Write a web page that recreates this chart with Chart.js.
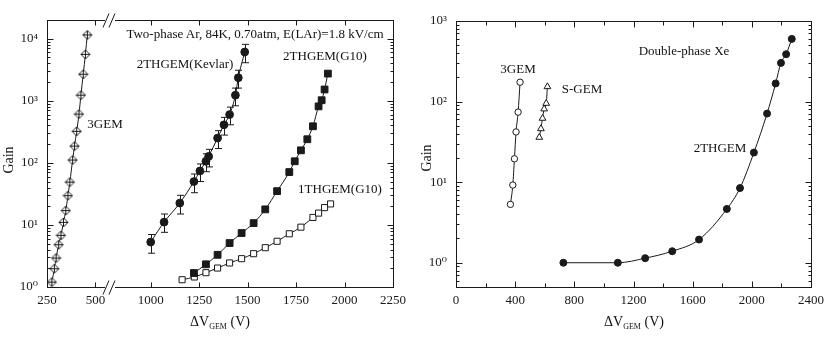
<!DOCTYPE html>
<html>
<head>
<meta charset="utf-8">
<script src="https://cdn.jsdelivr.net/npm/chart.js@4.4.0/dist/chart.umd.min.js"></script>
<style>
html, body { margin: 0; padding: 0; background: #fff; }
#wrap { position: relative; width: 830px; height: 345px; font-family: 'Liberation Serif', 'DejaVu Serif', serif; color: #111; }
.panel { position: absolute; top: 0; width: 415px; height: 345px; }
.lbl { position: absolute; font-size: 13px; white-space: nowrap; line-height: 1; transform: translate(-50%, -50%); }
.ytitle { position: absolute; font-size: 14px; line-height: 1; white-space: nowrap; transform: translate(-50%, -50%) rotate(-90deg); }
.xtitle { position: absolute; font-size: 14px; line-height: 1; white-space: nowrap; transform: translate(-50%, -50%); }
.xtitle sub { font-size: 8px; vertical-align: -3px; }
</style>
</head>
<body>
<div id="wrap">
  <canvas id="leftChart" class="panel" style="left:0" width="415" height="345"></canvas>
  <canvas id="rightChart" class="panel" style="left:415px" width="415" height="345"></canvas>

  <!-- левая панель -->
  <div class="lbl" style="left:255px;top:33px">Two-phase Ar, 84K, 0.70atm, E(LAr)=1.8 kV/cm</div>
  <div class="lbl" style="left:185px;top:63px">2THGEM(Kevlar)</div>
  <div class="lbl" style="left:325px;top:55px">2THGEM(G10)</div>
  <div class="lbl" style="left:105px;top:123px">3GEM</div>
  <div class="lbl" style="left:340px;top:188px">1THGEM(G10)</div>
  <div class="ytitle" style="left:9px;top:160px">Gain</div>
  <div class="xtitle" style="left:220px;top:323px">&Delta;V<sub>GEM</sub> (V)</div>

  <!-- правая панель -->
  <div class="lbl" style="left:684px;top:50px">Double-phase Xe</div>
  <div class="lbl" style="left:518px;top:68px">3GEM</div>
  <div class="lbl" style="left:582px;top:88px">S-GEM</div>
  <div class="lbl" style="left:720px;top:147px">2THGEM</div>
  <div class="ytitle" style="left:427px;top:158px">Gain</div>
  <div class="xtitle" style="left:634px;top:323px">&Delta;V<sub>GEM</sub> (V)</div>
</div>

<script>
// Левая панель: двухфазный Ar
const gem3ArV      = [275, 288, 297, 310, 322, 335, 347, 358, 368, 382, 392, 403, 415, 425, 437, 448, 458];
const gem3ArGain   = [1.2, 1.97, 2.93, 4.8, 6.8, 11, 17, 29.6, 49, 111, 186, 322, 610, 1230, 2680, 5600, 11500];

const kevlarV      = [1000, 1069, 1150, 1223, 1254, 1285, 1299, 1345, 1378, 1407, 1437, 1452, 1485];
const kevlarGain   = [5.3, 11.1, 22.5, 50, 74, 106, 127, 251, 410, 600, 1230, 2350, 6100];
const kevlarErrLo  = [3.5, 7.6, 15, 33, 50, 72, 86, 170, 280, 410, 830, 1600, 4100];
const kevlarErrHi  = [7.0, 15, 30, 66, 96, 140, 165, 330, 540, 790, 1600, 3100, 8100];

const g10x2V       = [1223, 1285, 1345, 1407, 1469, 1531, 1591, 1652, 1715, 1743, 1775, 1808, 1837, 1866, 1882, 1897, 1914];
const g10x2Gain    = [1.68, 2.32, 3.3, 5.1, 7.4, 10.7, 17.8, 35, 71, 106, 159, 240, 388, 812, 1020, 1520, 2740];

const g10x1V       = [1162, 1225, 1285, 1345, 1407, 1469, 1531, 1591, 1652, 1715, 1775, 1837, 1866, 1897, 1928];
const g10x1Gain    = [1.31, 1.45, 1.70, 2.02, 2.44, 2.86, 3.44, 4.30, 5.45, 7.2, 9.2, 13.2, 15.5, 19, 21.8];

const leftXTicks   = [250, 500, 1000, 1250, 1500, 1750, 2000, 2250];

// Правая панель: двухфазный Xe
const gem3XeV      = [368, 384, 395, 406, 420, 433];
const gem3XeGain   = [5.3, 9.2, 19.5, 42, 74, 174];

const sgemV        = [563, 574, 585, 596, 610, 618];
const sgemGain     = [36, 46, 62, 81, 95, 153];

const thgemXeV     = [726, 1094, 1279, 1462, 1643, 1831, 1920, 2014, 2103, 2161, 2197, 2232, 2270];
const thgemXeGain  = [1.0, 1.0, 1.14, 1.39, 1.94, 4.65, 8.45, 23.3, 71, 168, 302, 387, 600];

// Разрыв оси X слева: 500..1000 В сжато
const BREAK_LO = 500, BREAK_HI = 1000, GAP = 285, BREAK_MARK = 575;
function toAxis(v) { return v <= BREAK_LO ? v : v - (BREAK_HI - BREAK_LO) + GAP; }
function fromAxis(a) { return a <= BREAK_LO ? a : a + (BREAK_HI - BREAK_LO) - GAP; }

const INK = '#1a1a1a';
const FONT = { family: "'Liberation Serif', 'DejaVu Serif', serif", size: 13 };
const SUP = { '-': '⁻', '0': '⁰', '1': '¹', '2': '²', '3': '³', '4': '⁴', '5': '⁵' };

function pow10Label(v) {
    const e = Math.round(Math.log10(v));
    return '10' + String(e).split('').map(c => SUP[c]).join('');
}

function diamondCross(size) {
    const c = document.createElement('canvas');
    c.width = c.height = size;
    const g = c.getContext('2d');
    const m = size / 2, r = m - 1;
    g.strokeStyle = INK; g.lineWidth = 1; g.fillStyle = '#fff';
    g.beginPath();
    g.moveTo(m, m - r); g.lineTo(m + r, m); g.lineTo(m, m + r); g.lineTo(m - r, m); g.closePath();
    g.fill(); g.stroke();
    g.beginPath();
    g.moveTo(m, m - r); g.lineTo(m, m + r);
    g.moveTo(m - r, m); g.lineTo(m + r, m);
    g.stroke();
    return c;
}

function series(xs, ys, style, map) {
    return Object.assign({
        data: xs.map((x, i) => ({ x: map ? map(x) : x, y: ys[i] })),
        borderColor: INK, borderWidth: 1,
        pointBorderColor: INK, pointBorderWidth: 1,
        cubicInterpolationMode: 'monotone',
        fill: false
    }, style);
}

// Рамка, внутренние засечки, разрыв оси, усы ошибок
const framePlugin = {
    id: 'frame',
    afterDatasetsDraw(chart, args, opts) {
        const { ctx, chartArea: a, scales: { x, y } } = chart;
        ctx.save();
        ctx.strokeStyle = INK; ctx.lineWidth = 1;

        // усы ошибок
        chart.data.datasets.forEach((ds, di) => {
            if (!ds.errLo) return;
            const meta = chart.getDatasetMeta(di);
            meta.data.forEach((pt, i) => {
                const yl = y.getPixelForValue(ds.errLo[i]);
                const yh = y.getPixelForValue(ds.errHi[i]);
                const px = Math.round(pt.x) + 0.5;
                ctx.beginPath();
                ctx.moveTo(px, yl); ctx.lineTo(px, yh);
                ctx.moveTo(px - 3.5, yl); ctx.lineTo(px + 3.5, yl);
                ctx.moveTo(px - 3.5, yh); ctx.lineTo(px + 3.5, yh);
                ctx.stroke();
            });
        });

        const L = Math.round(a.left) + 0.5, R = Math.round(a.right) + 0.5;
        const T = Math.round(a.top) + 0.5, B = Math.round(a.bottom) + 0.5;
        ctx.strokeRect(L, T, R - L, B - T);

        ctx.beginPath();
        (opts.xTicks || []).forEach(([v, len]) => {
            const px = Math.round(x.getPixelForValue(v)) + 0.5;
            ctx.moveTo(px, B); ctx.lineTo(px, B - len);
            ctx.moveTo(px, T); ctx.lineTo(px, T + len);
        });
        const e0 = Math.floor(Math.log10(y.min)), e1 = Math.ceil(Math.log10(y.max));
        for (let e = e0; e <= e1; e++) {
            for (let k = 1; k <= 9; k++) {
                const v = k * Math.pow(10, e);
                if (v < y.min * 0.999 || v > y.max * 1.001) continue;
                const py = Math.round(y.getPixelForValue(v)) + 0.5;
                const len = k === 1 ? 6 : 3;
                ctx.moveTo(L, py); ctx.lineTo(L + len, py);
                ctx.moveTo(R, py); ctx.lineTo(R - len, py);
            }
        }
        ctx.stroke();

        if (opts.breakAt !== undefined) {
            const px = x.getPixelForValue(opts.breakAt);
            [B, T].forEach(yy => {
                ctx.fillStyle = '#fff';
                ctx.fillRect(px - 5, yy - 2, 10, 4);
                ctx.beginPath();
                ctx.moveTo(px - 7, yy + 7); ctx.lineTo(px - 1, yy - 7);
                ctx.moveTo(px - 1, yy + 7); ctx.lineTo(px + 5, yy - 7);
                ctx.stroke();
            });
        }
        ctx.restore();
    }
};

function makeChart(id, datasets, cfg) {
    return new Chart(document.getElementById(id), {
        type: 'line',
        data: { datasets },
        plugins: [framePlugin],
        options: {
            responsive: false, animation: false, devicePixelRatio: 1,
            layout: { padding: cfg.padding },
            plugins: { legend: { display: false }, tooltip: { enabled: false }, frame: cfg.frame },
            scales: {
                x: {
                    type: 'linear', min: cfg.xMin, max: cfg.xMax,
                    border: { display: false },
                    grid: { display: false, drawTicks: false },
                    afterBuildTicks: s => { s.ticks = cfg.xLabels.map(v => ({ value: v })); },
                    afterFit: s => { s.height = cfg.xHeight; },
                    ticks: { autoSkip: false, maxRotation: 0, padding: 6, color: INK, font: FONT, callback: cfg.xLabel }
                },
                y: {
                    type: 'logarithmic', min: cfg.yMin, max: cfg.yMax,
                    border: { display: false },
                    grid: { display: false, drawTicks: false },
                    afterBuildTicks: s => { s.ticks = cfg.yLabels.map(v => ({ value: v })); },
                    afterFit: s => { s.width = cfg.yWidth; },
                    ticks: { autoSkip: false, padding: 9, color: INK, font: FONT, callback: v => pow10Label(v) }
                }
            }
        }
    });
}

const leftXMinor = [];
[250, 500, 1000, 1250, 1500, 1750, 2000, 2250].forEach(v => leftXMinor.push([toAxis(v), 5]));

makeChart('leftChart', [
    series(gem3ArV, gem3ArGain, { pointStyle: diamondCross(11), pointRadius: 5.5 }),
    series(kevlarV, kevlarGain, { pointStyle: 'circle', pointRadius: 3.9, pointBackgroundColor: INK, errLo: kevlarErrLo, errHi: kevlarErrHi }, toAxis),
    series(g10x2V, g10x2Gain, { pointStyle: 'rect', pointRadius: 4.8, pointBackgroundColor: INK }, toAxis),
    series(g10x1V, g10x1Gain, { pointStyle: 'rect', pointRadius: 4.3, pointBackgroundColor: '#fff' }, toAxis)
], {
    padding: { left: 0, top: 20, right: 22, bottom: 0 },
    xMin: toAxis(250), xMax: toAxis(2250), xHeight: 58, yWidth: 47,
    xLabels: leftXTicks.map(toAxis), xLabel: v => String(fromAxis(v)),
    yMin: 1, yMax: 2e4, yLabels: [1, 10, 100, 1000, 10000],
    frame: { xTicks: leftXMinor, breakAt: BREAK_MARK }
});

const rightXTicks = [];
for (const v of [200, 400, 600, 800, 1000, 1200, 1400, 1600, 1800, 2000, 2200]) rightXTicks.push([v, v % 400 === 0 ? 6 : 4]);

makeChart('rightChart', [
    series(gem3XeV, gem3XeGain, { pointStyle: 'circle', pointRadius: 3.2, pointBackgroundColor: '#fff' }),
    series(sgemV, sgemGain, { pointStyle: 'triangle', pointRadius: 3.9, pointBackgroundColor: '#fff' }),
    series(thgemXeV, thgemXeGain, { pointStyle: 'circle', pointRadius: 3.5, pointBackgroundColor: INK })
], {
    padding: { left: 0, top: 21, right: 16, bottom: 0 },
    xMin: 0, xMax: 2400, xHeight: 58, yWidth: 41,
    xLabels: [0, 400, 800, 1200, 1600, 2000, 2400], xLabel: v => String(v),
    yMin: 0.5, yMax: 1000, yLabels: [1, 10, 100, 1000],
    frame: { xTicks: rightXTicks }
});
</script>
</body>
</html>
